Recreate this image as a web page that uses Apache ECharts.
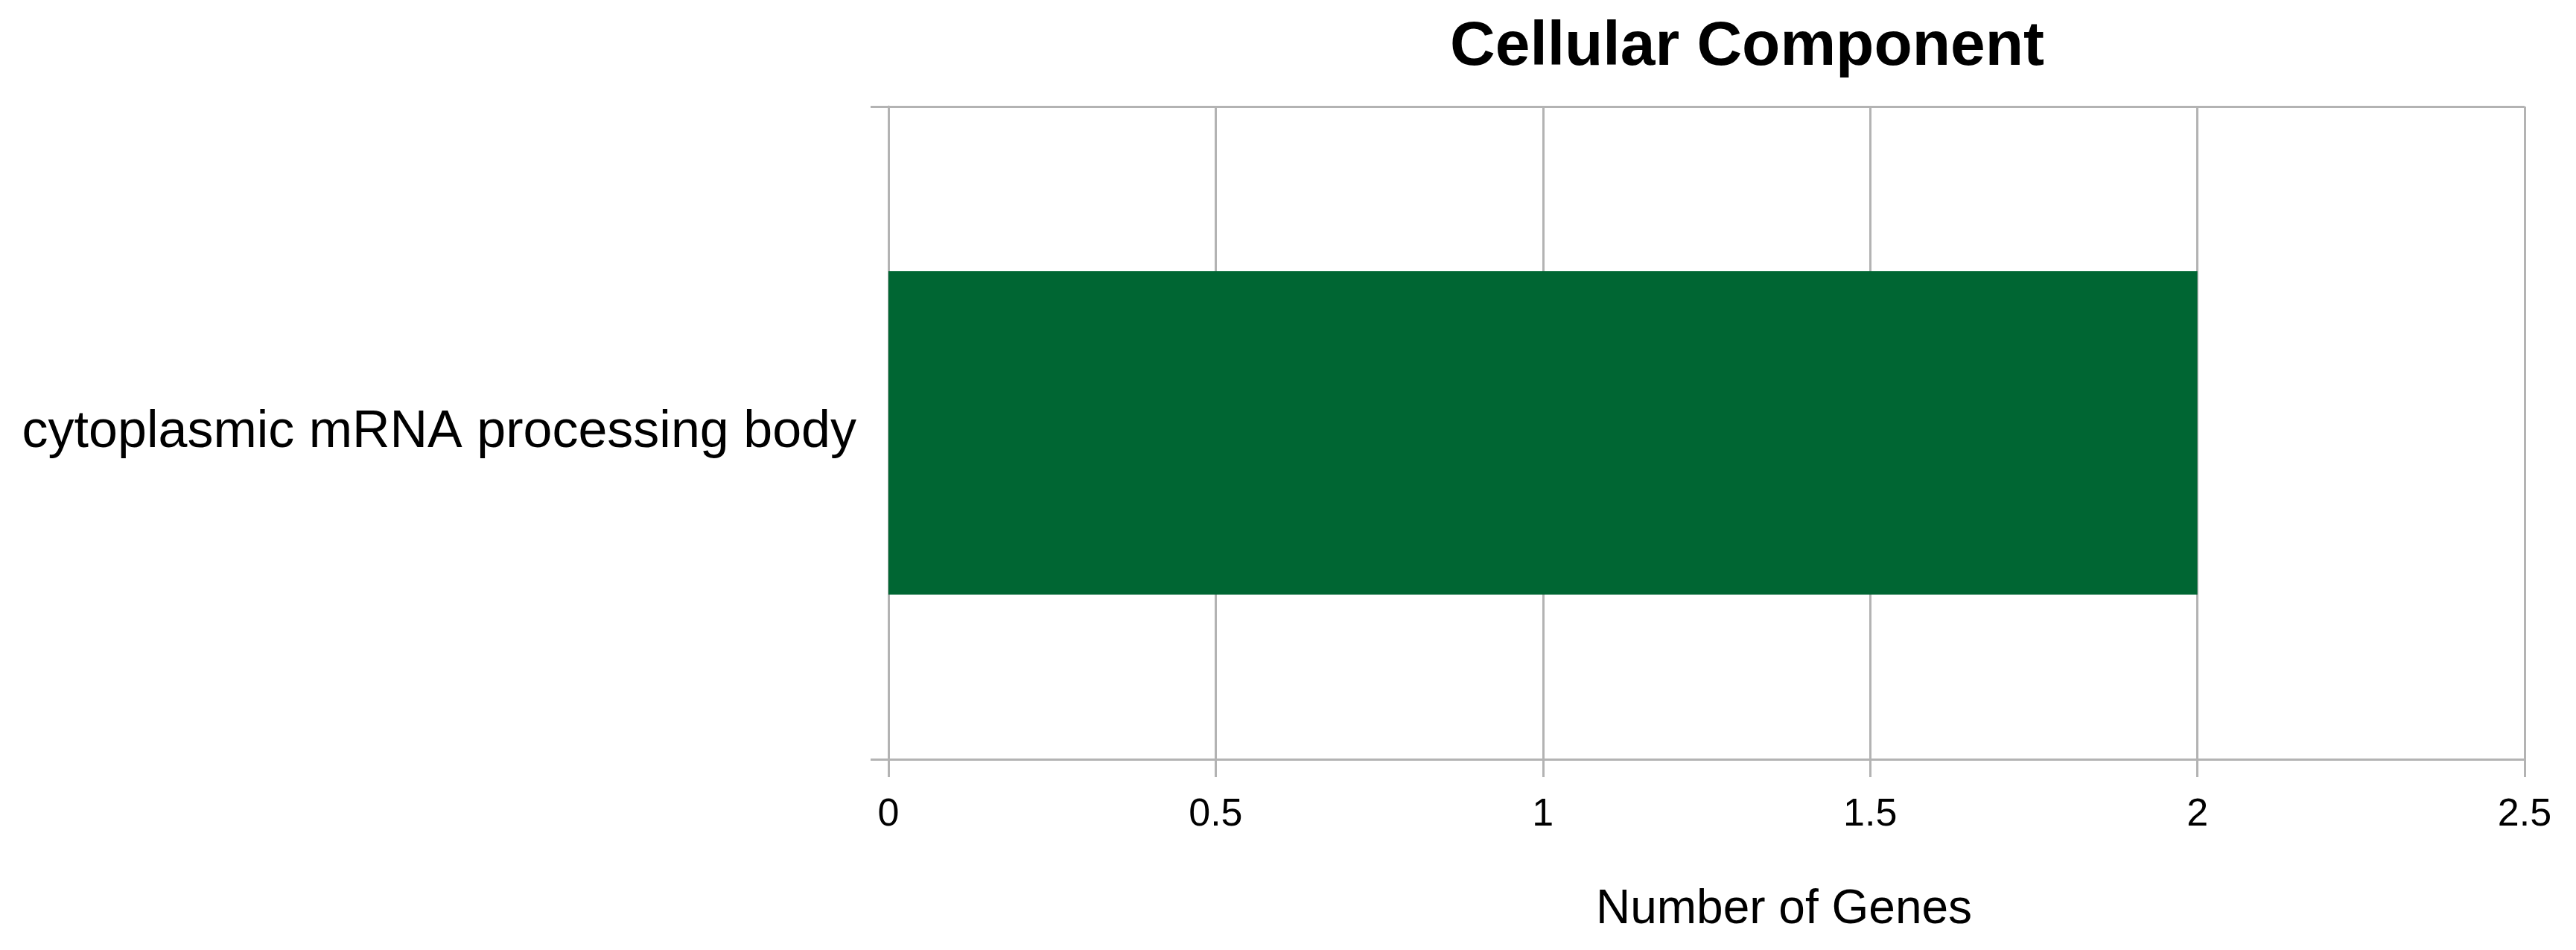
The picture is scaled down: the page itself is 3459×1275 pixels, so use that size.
<!DOCTYPE html>
<html>
<head>
<meta charset="utf-8">
<title>Cellular Component</title>
<script src="https://cdn.jsdelivr.net/npm/echarts@6/dist/echarts.min.js"></script>
<style>
    html, body {margin: 0; padding: 0; background: #fff;}
    #chart {width: 3459px; height: 1275px;}
</style>
</head>
<body>
<div id="chart"></div>
<script>
// data
var categories = ['cytoplasmic mRNA processing body'];
var geneCounts = [2];
var xTicks = [0, 0.5, 1, 1.5, 2, 2.5];

var chartTitle = 'Cellular Component';
var xName = 'Number of Genes';

var gray = '#b3b3b3';
var font = '"Liberation Sans", Arial, sans-serif';

var option = {
    backgroundColor: '#fff',
    animation: false,
    title: {
        text: chartTitle,
        left: 1947,
        top: 22,
        padding: 0,
        textStyle: {
            fontFamily: font,
            fontSize: 84,
            lineHeight: 84,
            fontWeight: 'bold',
            color: '#000'
        }
    },
    grid: {
        left: 1193,
        right: 69,
        top: 143,
        bottom: 256
    },
    xAxis: {
        type: 'value',
        min: xTicks[0],
        max: xTicks[xTicks.length - 1],
        interval: xTicks[1] - xTicks[0],
        name: xName,
        nameLocation: 'middle',
        nameGap: 170,
        nameTextStyle: {
            fontFamily: font,
            fontSize: 64,
            lineHeight: 64,
            color: '#000',
            padding: [0, 0, 0, 208]
        },
        axisLine: {show: true, lineStyle: {color: gray, width: 3}},
        axisTick: {show: true, length: 24, lineStyle: {color: gray, width: 3}},
        splitLine: {show: true, lineStyle: {color: gray, width: 3}},
        axisLabel: {
            fontFamily: font,
            fontSize: 52,
            color: '#000',
            margin: 49,
            formatter: function (v) { return String(v); }
        }
    },
    yAxis: {
        type: 'category',
        data: categories,
        axisLine: {show: true, lineStyle: {color: gray, width: 3}},
        axisTick: {show: true, length: 24, lineStyle: {color: gray, width: 3}},
        splitLine: {show: true, lineStyle: {color: gray, width: 3}},
        axisLabel: {
            fontFamily: font,
            fontSize: 70,
            color: '#000',
            margin: 43
        }
    },
    series: [{
        type: 'bar',
        data: geneCounts,
        barWidth: 434,
        itemStyle: {color: '#006633'}
    }]
};

echarts.init(document.getElementById('chart')).setOption(option);
</script>
</body>
</html>
